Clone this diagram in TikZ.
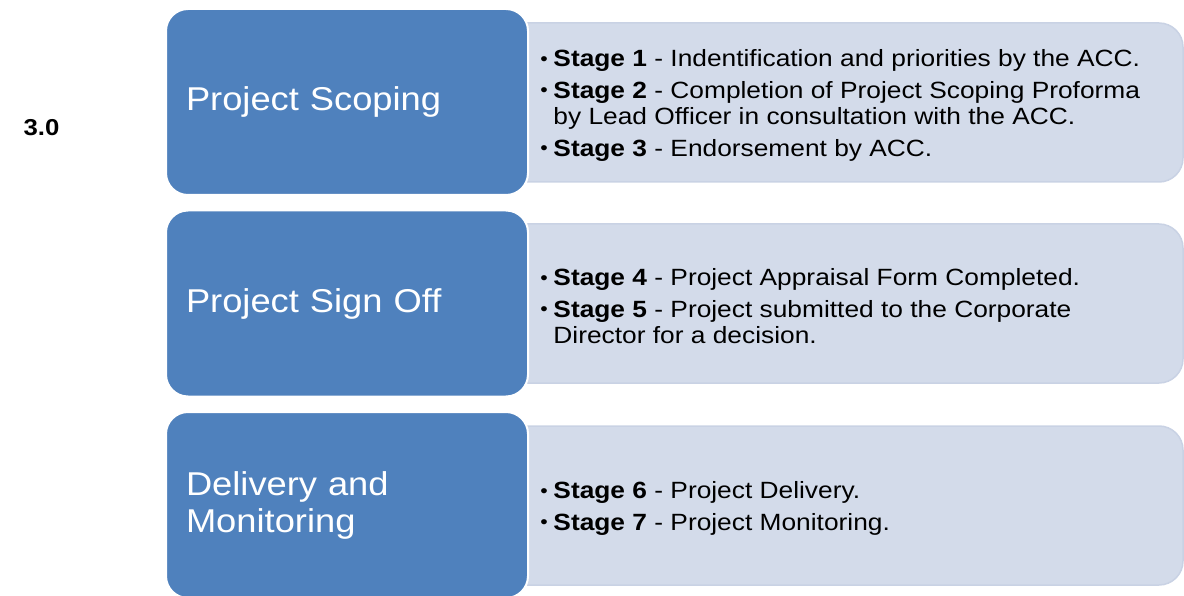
\documentclass[tikz,border=0pt]{standalone}
\usepackage{fontspec}
\setmainfont[FakeStretch=1.12]{Liberation Sans}
\newfontfamily\phasefont[FakeStretch=1.1]{Liberation Sans}
\usepackage{tikz}

\definecolor{phaseblue}{HTML}{4F81BD}
\definecolor{detailgrey}{HTML}{D3DBEA}
\definecolor{detailedge}{HTML}{C9D2E4}

% one bullet line: stage number, then its text
\newcommand{\stg}[2]{\makebox[13pt][l]{\raisebox{1.5pt}{\fontsize{19}{19}\selectfont•}}\textbf{Stage #1} - #2}

\tikzset{
  phase/.style={rectangle, rounded corners=22pt, fill=phaseblue, draw=white, line width=2pt,
    minimum width=362pt, minimum height=186pt, text width=322pt, inner xsep=20pt,
    align=left, text=white, font=\phasefont\fontsize{33}{37}\selectfont},
  detailbox/.style={rectangle, rounded corners=24pt, fill=detailgrey, draw=detailedge,
    line width=1.5pt, minimum width=680pt, minimum height=159pt},
  stages/.style={anchor=west, inner sep=0pt, align=left, font=\fontsize{23.5}{26.5}\selectfont}
}

\begin{document}
\begin{tikzpicture}[x=1pt,y=-1pt]
		\useasboundingbox (0,0) rectangle (1184,596);
		
		\node[font=\bfseries\fontsize{23}{26}\selectfont, anchor=west] (section) at (20,128) {3.0};
		
		\node[detailbox] (scopebg) at (843,102.5) {};
		\node[detailbox] (signbg) at (843,303.5) {};
		\node[detailbox] (deliverbg) at (843,505.5) {};
		
		\node[phase] (scope) at (347,102) {Project Scoping};
		\node[phase] (sign) at (347,303.5) {Project Sign Off};
		\node[phase] (deliver) at (347,505) {Delivery and\\Monitoring};
		
		\node[stages] (scopetxt) at ([xshift=38pt,yshift=-3pt]scopebg.west)
			{\stg{1}{Indentification and priorities by the ACC.}\\[5pt]
			 \stg{2}{Completion of Project Scoping Proforma}\\
			 \hspace*{13pt}by Lead Officer in consultation with the ACC.\\[5pt]
			 \stg{3}{Endorsement by ACC.}};
		\node[stages] (signtxt) at ([xshift=38pt,yshift=-3pt]signbg.west)
			{\stg{4}{Project Appraisal Form Completed.}\\[5pt]
			 \stg{5}{Project submitted to the Corporate}\\
			 \hspace*{13pt}Director for a decision.};
		\node[stages] (delivertxt) at ([xshift=38pt,yshift=-3pt]deliverbg.west)
			{\stg{6}{Project Delivery.}\\[5pt]
			 \stg{7}{Project Monitoring.}};
\end{tikzpicture}
\end{document}
